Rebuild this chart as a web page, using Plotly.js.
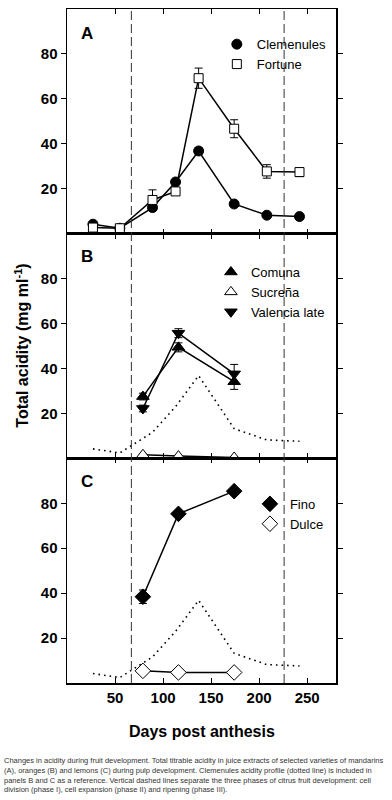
<!DOCTYPE html>
<html>
<head>
<meta charset="utf-8">
<script src="https://cdn.plot.ly/plotly-3.0.1.min.js"></script>
<style>
html,body{margin:0;padding:0;background:#fff;}
#chart{width:392px;height:800px;}
</style>
</head>
<body>
<div id="chart"></div>
<script>
// Panel A: mandarins
var daysA = [27, 55, 89, 113, 137, 174, 208, 242];
var clemenules = [4.2, 2.4, 11.6, 23, 36.8, 13.2, 8.2, 7.6];
var clemenulesErr = [0.5, 0.5, 1, 1, 1.5, 1, 0.5, 0.5];
var fortune = [2.7, 2.4, 15, 18.8, 69.2, 46.7, 27.7, 27.4];
var fortuneErr = [0.5, 0.5, 4.5, 1.5, 4.5, 4, 3, 2];
// Panel B: oranges
var daysB = [79, 116, 174];
var comuna = [27.5, 49.4, 34.1];
var comunaErr = [1.5, 2, 3.4];
var sucrena = [1.6, 1.0, 0.4];
var sucrenaErr = [0.3, 0.3, 0.3];
var valencia = [22.2, 55.7, 37.6];
var valenciaErr = [1.5, 2, 4.2];
// Panel C: lemons
var daysC = [79, 116, 174];
var fino = [38.4, 75.3, 85.4];
var finoErr = [3, 1, 1];
var dulce = [5.4, 4.7, 4.7];
var dulceErr = [0.5, 0.5, 0.5];
// Phase boundaries
var phaseDays = [67, 226];
var xTicks = [50, 100, 150, 200, 250];
var yTicks = [20, 40, 60, 80];

var FONT = "Liberation Sans, Arial, sans-serif";

function lineTrace(x, y, xa, ya, dash) {
  var l = {color: '#000', width: 1.5};
  if (dash) { l = {color: '#000', width: 1.6, dash: '1.6px,4px'}; }
  return {x: x, y: y, xaxis: xa, yaxis: ya, type: 'scatter', mode: 'lines',
          line: l, showlegend: false, hoverinfo: 'skip'};
}
function markTrace(x, y, err, xa, ya, name, symbol, filled, size, legend) {
  return {x: x, y: y, xaxis: xa, yaxis: ya, type: 'scatter', mode: 'markers', name: name,
          legend: legend,
          marker: {symbol: symbol, size: size, color: filled ? '#000' : '#fff',
                   line: {color: '#000', width: 1}},
          error_y: {type: 'data', array: err, visible: true, color: '#000', thickness: 1, width: 4}};
}

var traces = [
  lineTrace(daysA, clemenules, 'x', 'y'),
  lineTrace(daysA, fortune, 'x', 'y'),
  markTrace(daysA, clemenules, clemenulesErr, 'x', 'y', 'Clemenules', 'circle', true, 10, 'legend'),
  markTrace(daysA, fortune, fortuneErr, 'x', 'y', 'Fortune', 'square', false, 9, 'legend'),

  lineTrace(daysA, clemenules, 'x2', 'y2', true),
  lineTrace(daysB, comuna, 'x2', 'y2'),
  lineTrace(daysB, sucrena, 'x2', 'y2'),
  lineTrace(daysB, valencia, 'x2', 'y2'),
  markTrace(daysB, comuna, comunaErr, 'x2', 'y2', 'Comuna', 'triangle-up', true, 11, 'legend2'),
  markTrace(daysB, sucrena, sucrenaErr, 'x2', 'y2', 'Sucreña', 'triangle-up', false, 11, 'legend2'),
  markTrace(daysB, valencia, valenciaErr, 'x2', 'y2', 'Valencia late', 'triangle-down', true, 11, 'legend2'),

  lineTrace(daysA, clemenules, 'x3', 'y3', true),
  lineTrace(daysC, fino, 'x3', 'y3'),
  lineTrace(daysC, dulce, 'x3', 'y3'),
  markTrace(daysC, fino, finoErr, 'x3', 'y3', 'Fino', 'diamond', true, 12, 'legend3'),
  markTrace(daysC, dulce, dulceErr, 'x3', 'y3', 'Dulce', 'diamond', false, 12, 'legend3')
];

function xAxis(anchor, showLabels) {
  return {anchor: anchor, range: [0, 280], tickvals: xTicks, ticktext: xTicks.map(String),
          showticklabels: showLabels, ticks: 'inside', ticklen: 5, tickwidth: 1, tickcolor: '#000',
          showline: true, linecolor: '#000', linewidth: 1.5, mirror: 'ticks',
          showgrid: false, zeroline: false,
          tickfont: {family: FONT, size: 15, color: '#000', weight: 'bold'}};
}
function yAxis(domain, anchor) {
  return {domain: domain, anchor: anchor, range: [0, 100], tickvals: yTicks, ticktext: yTicks.map(String),
          ticks: 'outside', ticklen: 5, tickwidth: 1, tickcolor: '#000',
          showline: true, linecolor: '#000', linewidth: 1.5, mirror: 'ticks',
          showgrid: false, zeroline: false,
          tickfont: {family: FONT, size: 15, color: '#000', weight: 'bold'}};
}
function legendBox(x, y) {
  return {x: x, y: y, xanchor: 'left', yanchor: 'top', xref: 'paper', yref: 'paper',
          bgcolor: 'rgba(0,0,0,0)', borderwidth: 0, tracegroupgap: 0,
          font: {family: FONT, size: 13, color: '#000'}};
}

var shapes = [];
phaseDays.forEach(function (d) {
  shapes.push({type: 'line', xref: 'x', yref: 'paper', x0: d, x1: d, y0: 0, y1: 1,
               line: {color: '#333', width: 1, dash: '9px,4px'}});
});

var letterFont = {family: FONT, size: 17, color: '#000', weight: 'bold'};
function letter(t, xr, yr, x, y) {
  return {text: t, xref: xr, yref: yr, x: x, y: y, showarrow: false,
          xanchor: 'center', yanchor: 'middle', font: letterFont};
}
var annotations = [
  letter('A', 'x domain', 'y domain', 0.075, 0.892),
  letter('B', 'x2 domain', 'y2 domain', 0.075, 0.899),
  letter('C', 'x3 domain', 'y3 domain', 0.073, 0.896),
  {text: 'Total acidity (mg ml<sup>-1</sup>)', xref: 'paper', yref: 'paper', x: -0.1686, y: 0.5,
   textangle: -90, showarrow: false, xanchor: 'center', yanchor: 'middle',
   font: {family: FONT, size: 16, color: '#000', weight: 'bold'}},
  {text: 'Days post anthesis', xref: 'paper', yref: 'paper', x: 0.503, y: -0.0727,
   showarrow: false, xanchor: 'center', yanchor: 'middle',
   font: {family: FONT, size: 16, color: '#000', weight: 'bold'}},
  {text: 'Changes in acidity during fruit development. Total titrable acidity in juice extracts of selected varieties of mandarins<br>' +
         '(A), oranges (B) and lemons (C) during pulp development. Clemenules acidity profile (dotted line) is included in<br>' +
         'panels B and C as a reference. Vertical dashed lines separate the three phases of citrus fruit development: cell<br>' +
         'division (phase I), cell expansion (phase II) and ripening (phase III).',
   xref: 'paper', yref: 'paper', x: -0.243, y: -0.1053, xanchor: 'left', yanchor: 'top', align: 'left',
   showarrow: false, font: {family: FONT, size: 7.5, color: '#333'}}
];

var layout = {
  width: 392, height: 800,
  margin: {l: 67, r: 56, t: 9, b: 117, pad: 0},
  paper_bgcolor: '#fff', plot_bgcolor: '#fff',
  showlegend: true,
  xaxis: xAxis('y', false),
  xaxis2: xAxis('y2', false),
  xaxis3: xAxis('y3', true),
  yaxis: yAxis([0.6667, 1], 'x'),
  yaxis2: yAxis([0.3333, 0.6667], 'x2'),
  yaxis3: yAxis([0, 0.3333], 'x3'),
  legend: legendBox(0.557, 0.970),
  legend2: legendBox(0.535, 0.632),
  legend3: legendBox(0.68, 0.288),
  shapes: shapes,
  annotations: annotations
};

Plotly.newPlot('chart', traces, layout, {displayModeBar: false, staticPlot: true});
</script>
</body>
</html>
